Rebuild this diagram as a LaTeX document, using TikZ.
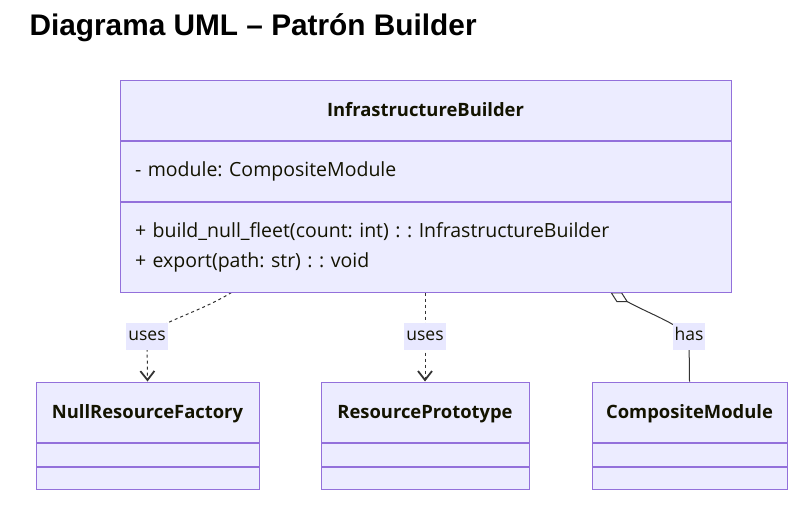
\documentclass[tikz,border=0pt]{standalone}
\usepackage{fontspec}
\setmainfont{Open Sans}
\newfontfamily\titlefont{Liberation Sans}
\frenchspacing
\usetikzlibrary{arrows.meta, positioning, backgrounds}
\definecolor{classfill}{HTML}{ECECFF}
\definecolor{classline}{HTML}{9370DB}
\definecolor{edgeline}{HTML}{333333}
\definecolor{labelfill}{HTML}{E8E8FF}
\definecolor{classtext}{HTML}{131300}

\begin{document}
\begin{tikzpicture}[x=1pt, y=-1pt,
    classhead/.style={draw=classline, fill=classfill, line width=1pt, inner sep=0pt, minimum width=#1, minimum height=60pt, text height=13pt, text depth=1pt, text=classtext, font=\fontsize{18.4}{22}\selectfont\bfseries},
    classpart/.style={draw=classline, fill=classfill, line width=1pt, inner sep=0pt, minimum width=#1, text=classtext, font=\fontsize{19.5}{30}\selectfont},
    usesedge/.style={draw=edgeline, line width=1pt, dash pattern=on 3pt off 3pt, -{Straight Barb[length=9pt,width=14pt,line width=1.8pt]}},
    hasedge/.style={draw=edgeline, line width=1pt, {Diamond[open,length=20pt,width=11pt,line width=1pt]}-},
    edgelabel/.style={fill=labelfill, inner xsep=2pt, inner ysep=6pt, text height=12pt, text depth=3pt, text=classtext, font=\fontsize{17.5}{20}\selectfont}]
    \useasboundingbox (0,0) rectangle (810,514);

    % Title
    \node[anchor=west, font=\titlefont\bfseries\fontsize{29.8}{34}\selectfont] (title) at (26,28) {Diagrama UML – Patrón Builder};

    % InfrastructureBuilder class
    \node[classhead=611pt] (ib) at (425.5,110) {InfrastructureBuilder};
    \node[classpart=611pt, minimum height=60pt, text width=581pt, align=left, below=0pt of ib] (ibattr) {- module: CompositeModule};
    \node[classpart=611pt, minimum height=90pt, text width=581pt, align=left, below=0pt of ibattr] (ibops) {+ build\_null\_fleet(count: int) : : InfrastructureBuilder\\+ export(path: str) : : void};

    % NullResourceFactory class
    \node[classhead=223pt] (nrf) at (147.5,412) {NullResourceFactory};
    \node[classpart=223pt, minimum height=23pt, below=0pt of nrf] (nrfattr) {};
    \node[classpart=223pt, minimum height=22pt, below=0pt of nrfattr] (nrfops) {};

    % ResourcePrototype class
    \node[classhead=208pt] (rp) at (425,412) {ResourcePrototype};
    \node[classpart=208pt, minimum height=23pt, below=0pt of rp] (rpattr) {};
    \node[classpart=208pt, minimum height=22pt, below=0pt of rpattr] (rpops) {};

    % CompositeModule class
    \node[classhead=195pt] (cm) at (689.5,412) {CompositeModule};
    \node[classpart=195pt, minimum height=23pt, below=0pt of cm] (cmattr) {};
    \node[classpart=195pt, minimum height=22pt, below=0pt of cmattr] (cmops) {};

    % Edge labels
    \node[edgelabel] (uses1) at (147,336) {uses};
    \node[edgelabel] (uses2) at (425,336) {uses};
    \node[edgelabel] (has) at (689,336) {has};

    % Relations
    \begin{scope}[on background layer]
        \draw[usesedge] ([xshift=112pt]ibops.south west) .. controls (200,312) and (160,322) .. (uses1.center) -- (nrf.north);
        \draw[usesedge] (ibops.south -| rp.north) -- (rp.north);
        \draw[hasedge] ([xshift=491pt]ibops.south west) .. controls (650,314) and (674,322) .. (has.center) -- (cm.north);
    \end{scope}
\end{tikzpicture}
\end{document}
